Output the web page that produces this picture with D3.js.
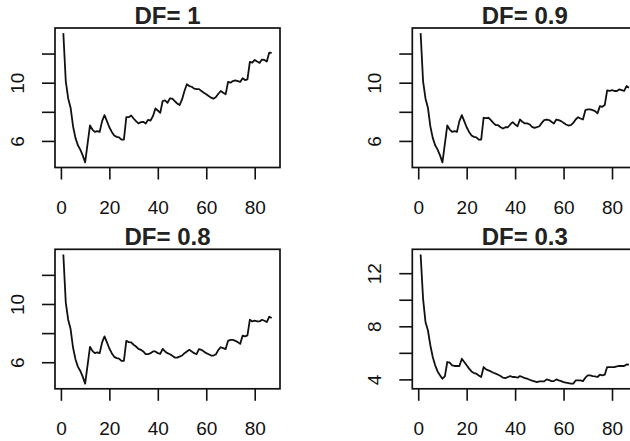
<!DOCTYPE html>
<html>
<head>
<meta charset="utf-8">
<script src="https://cdn.jsdelivr.net/npm/d3@7"></script>
<style>
  html, body { margin: 0; padding: 0; background: #fff; }
  svg { display: block; }
</style>
</head>
<body>
<svg id="chart" width="630" height="441"></svg>
<script>
// Iteration index shared by every panel
const steps = d3.range(1, 88);

// Panel titles
const titles = ["DF= 1", "DF= 0.9", "DF= 0.8", "DF= 0.3"];

// Series values, one array per discount factor
const valuesDF1 = [
  13.40, 10.11, 8.92, 8.28, 7.01, 6.21, 5.70, 5.40, 5.01, 4.53,
  5.79, 7.06, 6.78, 6.62, 6.67, 6.62, 7.36, 7.77, 7.36, 6.94,
  6.62, 6.37, 6.28, 6.25, 6.09, 6.09, 7.63, 7.63, 7.75, 7.54,
  7.36, 7.20, 7.29, 7.31, 7.20, 7.45, 7.40, 7.70, 8.23, 8.09,
  7.93, 8.74, 8.78, 8.62, 8.92, 8.90, 8.74, 8.57, 8.46, 8.85,
  9.43, 9.89, 9.77, 9.72, 9.59, 9.56, 9.56, 9.43, 9.31, 9.20,
  9.08, 8.97, 8.90, 9.01, 9.24, 9.43, 9.31, 9.20, 10.05, 10.00,
  10.11, 10.16, 10.11, 10.05, 10.30, 10.18, 10.23, 11.43, 11.38, 11.56,
  11.45, 11.36, 11.59, 11.56, 11.45, 12.07, 12.05
];

const valuesDF09 = [
  13.40, 10.11, 8.92, 8.28, 7.01, 6.21, 5.70, 5.40, 5.01, 4.53,
  5.79, 7.06, 6.78, 6.62, 6.67, 6.62, 7.36, 7.77, 7.36, 6.94,
  6.62, 6.37, 6.28, 6.25, 6.09, 6.09, 7.59, 7.56, 7.59, 7.43,
  7.24, 7.08, 7.08, 6.94, 6.85, 6.94, 6.94, 7.13, 7.29, 7.13,
  7.01, 7.47, 7.31, 7.20, 7.20, 7.13, 6.97, 6.90, 6.94, 7.01,
  7.24, 7.43, 7.47, 7.43, 7.31, 7.20, 7.47, 7.43, 7.36, 7.24,
  7.13, 7.06, 7.08, 7.24, 7.47, 7.63, 7.54, 7.47, 8.11, 8.16,
  8.16, 8.11, 8.05, 7.89, 8.39, 8.34, 8.46, 9.47, 9.43, 9.49,
  9.43, 9.43, 9.54, 9.49, 9.43, 9.77, 9.66
];

const valuesDF08 = [
  13.40, 10.11, 8.92, 8.28, 7.01, 6.21, 5.70, 5.40, 5.01, 4.53,
  5.79, 7.06, 6.78, 6.62, 6.67, 6.62, 7.36, 7.77, 7.36, 6.94,
  6.62, 6.37, 6.28, 6.25, 6.09, 6.09, 7.47, 7.38, 7.36, 7.20,
  7.08, 6.92, 6.85, 6.74, 6.55, 6.55, 6.62, 6.74, 6.74, 6.62,
  6.57, 6.92, 6.74, 6.62, 6.55, 6.44, 6.32, 6.32, 6.39, 6.46,
  6.62, 6.74, 6.85, 6.74, 6.62, 6.55, 6.90, 6.85, 6.74, 6.62,
  6.55, 6.46, 6.46, 6.55, 6.85, 7.03, 6.97, 6.90, 7.47, 7.54,
  7.54, 7.47, 7.38, 7.26, 7.82, 7.77, 7.84, 8.92, 8.80, 8.85,
  8.80, 8.80, 8.92, 8.85, 8.76, 9.13, 9.03
];

const valuesDF03 = [
  13.41, 10.09, 8.33, 7.70, 6.57, 5.69, 5.06, 4.60, 4.30, 4.05,
  4.23, 5.31, 5.26, 5.06, 5.01, 5.01, 5.01, 5.56, 5.31, 5.06,
  4.81, 4.60, 4.48, 4.43, 4.30, 4.18, 4.93, 4.75, 4.68, 4.60,
  4.50, 4.43, 4.35, 4.25, 4.13, 4.10, 4.18, 4.25, 4.18, 4.18,
  4.13, 4.25, 4.18, 4.10, 4.05, 3.97, 3.90, 3.85, 3.80, 3.85,
  3.85, 3.85, 4.00, 3.95, 3.87, 3.87, 4.00, 3.92, 3.87, 3.80,
  3.75, 3.72, 3.68, 3.68, 3.92, 3.92, 3.92, 3.87, 4.13, 4.30,
  4.30, 4.25, 4.23, 4.18, 4.35, 4.30, 4.35, 4.93, 4.93, 4.93,
  4.93, 4.98, 5.01, 5.01, 5.01, 5.13, 5.11
];

// Axis ticks and which of them carry a label
const xTicks = [0, 20, 40, 60, 80];
const yTicksUpper = [6, 8, 10, 12];
const yLabelsUpper = [6, 10];
const yTicksLow = [4, 6, 8, 10, 12];
const yLabelsLow = [4, 8, 12];

const panels = [
  { title: titles[0], values: valuesDF1,  yTicks: yTicksUpper, yLabels: yLabelsUpper, left: 55,    top: 28 },
  { title: titles[1], values: valuesDF09, yTicks: yTicksUpper, yLabels: yLabelsUpper, left: 412.3, top: 28 },
  { title: titles[2], values: valuesDF08, yTicks: yTicksUpper, yLabels: yLabelsUpper, left: 55,    top: 249.3 },
  { title: titles[3], values: valuesDF03, yTicks: yTicksLow,   yLabels: yLabelsLow,   left: 412.3, top: 249.3 }
];

const boxW = 225, boxH = 139.5;
const font = "'Liberation Sans', Arial, Helvetica, sans-serif";
const ink = "#111";

// Pad a numeric extent by 4% on each side
function padded(ext) {
  const r = ext[1] - ext[0];
  return [ext[0] - 0.04 * r, ext[1] + 0.04 * r];
}

const svg = d3.select("#chart");

panels.forEach(p => {
  const g = svg.append("g").attr("transform", `translate(${p.left},${p.top})`);

  const x = d3.scaleLinear().domain(padded(d3.extent(steps))).range([0, boxW]);
  const y = d3.scaleLinear().domain(padded(d3.extent(p.values))).range([boxH, 0]);

  // x axis
  const xa = g.append("g")
    .attr("transform", `translate(0,${boxH})`)
    .call(d3.axisBottom(x).tickValues(xTicks).tickSize(12).tickSizeOuter(0).tickFormat(d3.format("d")));
  xa.select(".domain").remove();
  xa.selectAll(".tick line").attr("stroke", ink).attr("stroke-width", 1.6);
  xa.selectAll(".tick text")
    .attr("y", 46).attr("dy", 0)
    .attr("fill", ink)
    .style("font-family", font).style("font-size", "19px");

  // y axis with rotated labels
  const ya = g.append("g")
    .call(d3.axisLeft(y).tickValues(p.yTicks).tickSize(13).tickSizeOuter(0)
      .tickFormat(d => p.yLabels.includes(d) ? d3.format("d")(d) : ""));
  ya.select(".domain").remove();
  ya.selectAll(".tick line").attr("stroke", ink).attr("stroke-width", 1.6);
  ya.selectAll(".tick text")
    .attr("x", 0).attr("y", 0).attr("dy", 0)
    .attr("transform", "translate(-31,0) rotate(-90)")
    .attr("text-anchor", "middle")
    .attr("fill", ink)
    .style("font-family", font).style("font-size", "19px");

  // series line
  const line = d3.line()
    .x((d, i) => x(steps[i]))
    .y(d => y(d));
  g.append("path")
    .datum(p.values)
    .attr("d", line)
    .attr("fill", "none")
    .attr("stroke", ink)
    .attr("stroke-width", 1.8)
    .attr("stroke-linejoin", "round");

  // plot frame
  g.append("rect")
    .attr("x", 0).attr("y", 0)
    .attr("width", boxW).attr("height", boxH)
    .attr("fill", "none")
    .attr("stroke", ink)
    .attr("stroke-width", 1.7);

  // title
  g.append("text")
    .attr("x", boxW / 2)
    .attr("y", -4)
    .attr("text-anchor", "middle")
    .attr("fill", "#222")
    .style("font-family", font)
    .style("font-size", "24px")
    .style("font-weight", "bold")
    .text(p.title);
});
</script>
</body>
</html>
